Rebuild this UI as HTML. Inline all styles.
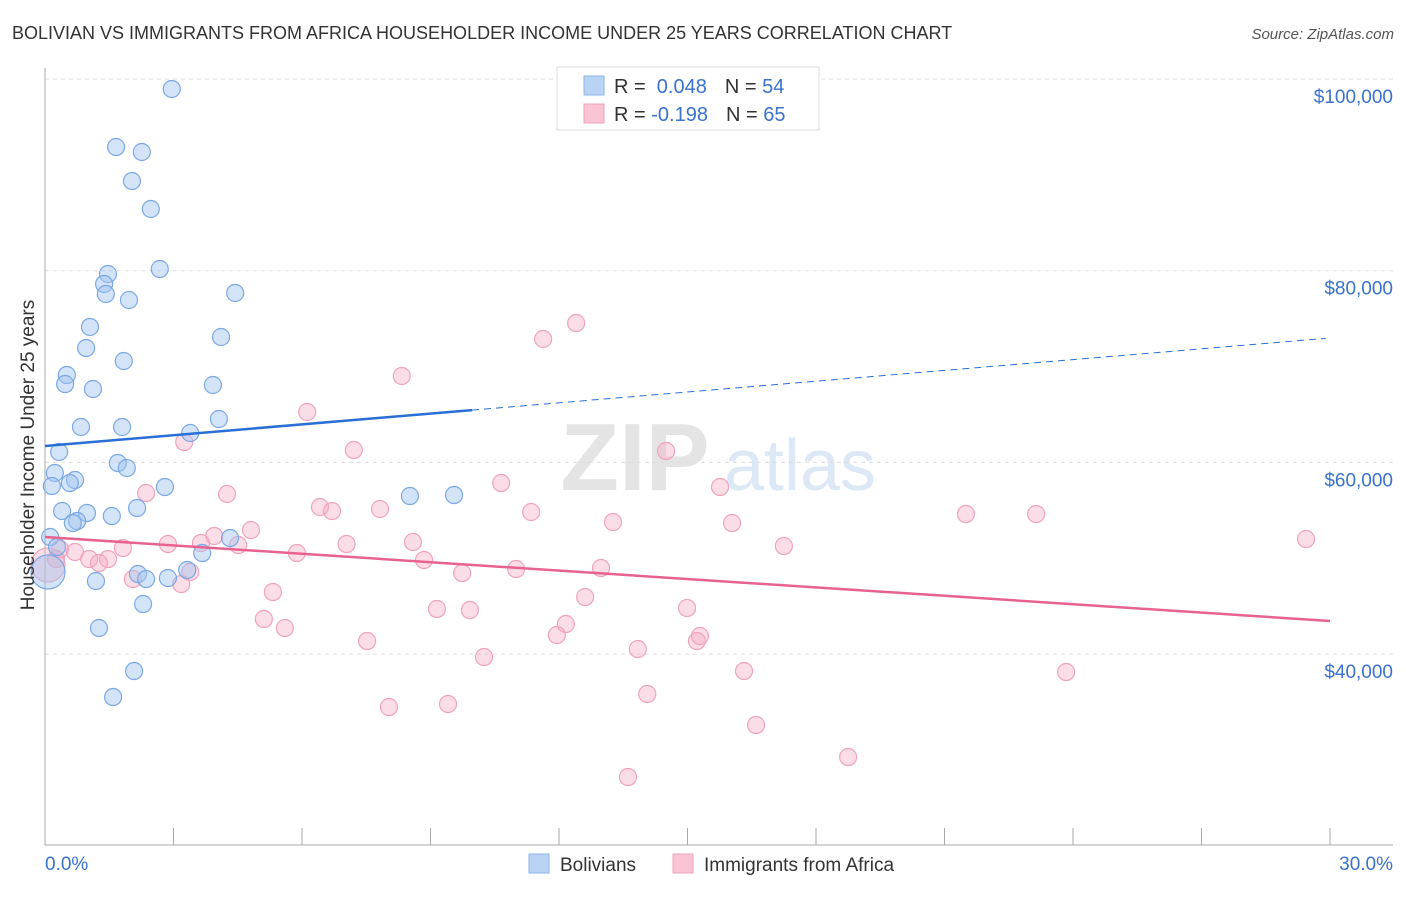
<!DOCTYPE html>
<html><head><meta charset="utf-8"><style>
body{margin:0;background:#fff;font-family:"Liberation Sans",sans-serif;}
svg text{font-family:"Liberation Sans",sans-serif;}
</style></head><body>
<svg id="chart" width="1406" height="892" viewBox="0 0 1406 892" xmlns="http://www.w3.org/2000/svg">
<text x="12" y="39" font-size="18" fill="#333">BOLIVIAN VS IMMIGRANTS FROM AFRICA HOUSEHOLDER INCOME UNDER 25 YEARS CORRELATION CHART</text>
<text x="1394" y="39" font-size="15" fill="#555" text-anchor="end" font-style="italic">Source: ZipAtlas.com</text>
<g>
<text x="635" y="490" font-size="96" fill="#e4e4e4" text-anchor="middle" font-family="Liberation Serif,serif" font-weight="bold">ZIP</text>
<text x="800" y="490" font-size="72" fill="#dce8f6" text-anchor="middle">atlas</text>
</g>
<g id="grid"></g><g id="axes"></g><g id="marks"></g><g id="lines"></g>
<g>
<rect x="557" y="67" width="262" height="63" fill="#fff" stroke="#ddd"/>
<rect x="584" y="76" width="20" height="19" fill="#b9d3f5" stroke="#8fb4e8"/>
<text x="614" y="93" font-size="20" fill="#333">R = <tspan fill="#3a72d0">&#160;0.048</tspan><tspan dx="18" fill="#333">N = </tspan><tspan fill="#3a72d0">54</tspan></text>
<rect x="584" y="104" width="20" height="19" fill="#f9c5d5" stroke="#f0a3bc"/>
<text x="614" y="121" font-size="20" fill="#333">R = <tspan fill="#3a72d0">-0.198</tspan><tspan dx="18" fill="#333">N = </tspan><tspan fill="#3a72d0">65</tspan></text>
</g>
<g>
<rect x="529" y="854" width="20" height="19" fill="#b9d3f5" stroke="#8fb4e8"/>
<text x="560" y="871" font-size="19" fill="#333">Bolivians</text>
<rect x="673" y="854" width="20" height="19" fill="#f9c5d5" stroke="#f0a3bc"/>
<text x="704" y="871" font-size="19" fill="#333">Immigrants from Africa</text>
</g>
<text transform="translate(34,455) rotate(-90)" font-size="19" fill="#333" text-anchor="middle">Householder Income Under 25 years</text>
</svg>
<script>
const xTicksLabels=["0.0%","30.0%"];
const yTickValues=[40000,60000,80000,100000];
const yTickLabels=["$40,000","$60,000","$80,000","$100,000"];
const blueX=[2.96,1.66,2.26,2.03,2.47,2.68,1.47,1.38,1.42,1.96,4.44,1.05,4.11,0.96,1.84,0.51,0.47,1.12,3.92,4.06,0.84,1.80,3.39,0.33,1.70,1.91,0.23,0.70,0.58,2.80,0.16,8.52,9.55,0.40,0.98,0.75,1.56,2.15,0.65,0.12,4.32,0.28,3.67,2.17,3.32,2.87,2.36,1.19,0.07,2.29,1.26,2.08,1.59];
const blueY=[98957,92905,92384,89358,86437,80177,79656,78613,77569,76943,77674,74126,73083,71935,70579,69118,68179,67658,68075,64528,63693,63693,63067,61085,59937,59416,58894,58163,57850,57433,57537,56494,56598,54929,54720,53885,54407,55242,53677,52216,52111,51172,50546,48355,48772,47938,47834,47625,48563,45226,42722,38236,35523];
const pinkX=[12.40,11.63,8.33,6.12,3.25,7.21,14.50,10.65,15.76,2.36,4.25,6.42,6.70,7.82,11.35,13.26,16.04,21.50,23.14,29.44,4.81,3.95,2.87,1.82,7.04,8.59,4.51,3.64,17.25,0.35,0.70,1.47,1.03,5.88,8.85,0.26,1.26,0.07,9.74,11.00,12.98,3.39,2.05,3.18,5.32,12.61,9.15,9.92,14.99,5.11,12.16,5.60,11.95,15.29,15.22,7.52,13.84,10.25,16.32,23.84,14.06,9.41,8.03,16.60,18.75,13.61];
const pinkY=[74543,72874,69014,65258,62128,61293,61189,57850,57433,56807,56703,55347,54929,55138,54825,53781,53677,54616,54616,52008,52947,52321,51486,51068,51486,51694,51381,51590,51277,50964,50651,49921,49921,50547,49817,49921,49504,49295,48459,48876,48980,48563,47834,47312,46478,45956,44704,44600,44809,43661,43139,42722,41991,41887,41365,41365,40530,39696,38236,38131,35836,34793,34480,32602,29263,27177];
const blueTrend=[61711,72978];
const pinkTrend=[52216,43453];
const xs=v=>45+v/30*1285;
const ys=v=>79+(100000-v)/20000*191.7;
const NS="http://www.w3.org/2000/svg";
function mk(tag,attrs,parent){const e=document.createElementNS(NS,tag);for(const k in attrs)e.setAttribute(k,attrs[k]);parent.appendChild(e);return e;}
const grid=document.getElementById('grid'),axes=document.getElementById('axes'),marks=document.getElementById('marks'),lines=document.getElementById('lines');
yTickValues.forEach((v,i)=>{
 const g=mk('line',{x1:45,x2:1393,y1:ys(v),y2:ys(v),stroke:'#ddd','stroke-dasharray':'4,4'},grid);
 
 
 const t=mk('text',{x:1393,y:ys(v)+24,'font-size':19,fill:'#3a72d0','text-anchor':'end'},axes);
 t.textContent=yTickLabels[i];
 
 
});
const ax=mk('line',{x1:45,x2:45,y1:68,y2:845,stroke:'#aaa'},axes);


const bx=mk('line',{x1:45,x2:1393,y1:845,y2:845,stroke:'#aaa'},axes);


for(let i=0;i<=10;i++){
 const tk=mk('line',{x1:xs(i*3),x2:xs(i*3),y1:828,y2:845,stroke:'#aaa'},axes);
 
 
}
const xl0=mk('text',{x:45,y:870,'font-size':19,fill:'#3a72d0'},axes);xl0.textContent=xTicksLabels[0];


const xl1=mk('text',{x:1393,y:870,'font-size':19,fill:'#3a72d0','text-anchor':'end'},axes);xl1.textContent=xTicksLabels[1];


pinkX.forEach((x,i)=>{
 const c=mk('circle',{cx:xs(x),cy:ys(pinkY[i]),r:(x<0.1?17:8.5),fill:'rgba(245,170,195,0.4)',stroke:'#f0a3bc','stroke-width':1.2},marks);
 
 
});
blueX.forEach((x,i)=>{
 const c=mk('circle',{cx:xs(x),cy:ys(blueY[i]),r:(x<0.1?17:8.5),fill:'rgba(160,196,240,0.45)',stroke:'#7aa8e6','stroke-width':1.2},marks);
 
 
});
const bAt=x=>blueTrend[0]+(blueTrend[1]-blueTrend[0])*x/30;
const b1=mk('line',{x1:xs(0),y1:ys(bAt(0)),x2:xs(9.97),y2:ys(bAt(9.97)),stroke:'#2a6fd6','stroke-width':2.5},lines);


const b2=mk('line',{x1:xs(9.97),y1:ys(bAt(9.97)),x2:xs(29.9),y2:ys(bAt(29.9)),stroke:'#2a6fd6','stroke-width':1,'stroke-dasharray':'7,5'},lines);


const p1=mk('line',{x1:xs(0),y1:ys(pinkTrend[0]),x2:xs(30),y2:ys(pinkTrend[1]),stroke:'#e8628f','stroke-width':2.5},lines);


</script>
</body></html>
